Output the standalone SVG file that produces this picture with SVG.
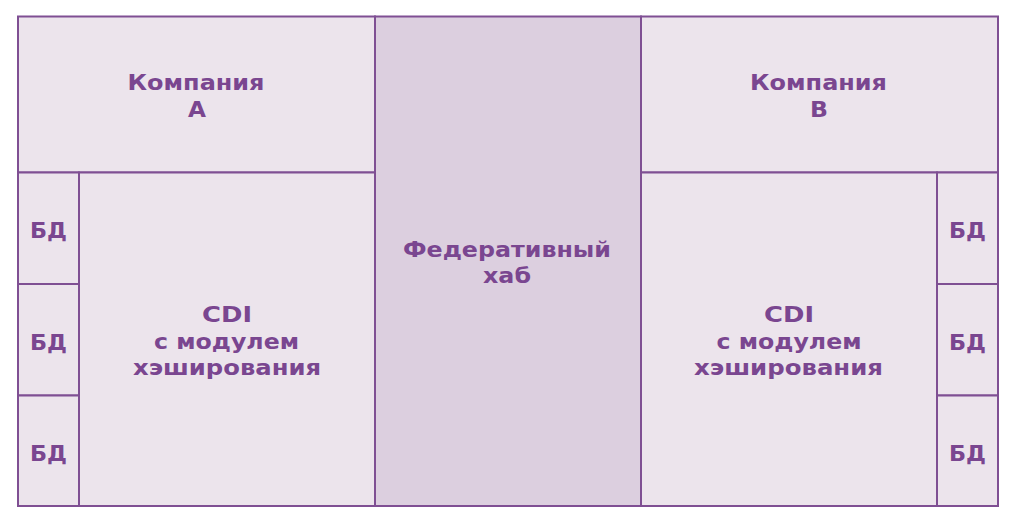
<svg xmlns="http://www.w3.org/2000/svg" width="1016" height="514" viewBox="0 0 1016 514">
<style>
.box{fill:#ece4ec;stroke:#7f4f93;stroke-width:2}
.hub{fill:#dccfdf;stroke:#7f4f93;stroke-width:2}
.t{font-family:"DejaVu Sans","Liberation Sans",Arial,sans-serif;font-weight:bold;font-size:20.5px;fill:#7a4690;text-anchor:middle}
</style>
<rect x="0" y="0" width="1016" height="514" fill="#ffffff"/>
<g id="company-a">
<rect class="box" x="18" y="16.5" width="357" height="156"/>
<text class="t" x="196" y="90" textLength="137" lengthAdjust="spacingAndGlyphs">Компания</text>
<text class="t" x="197" y="117" textLength="18" lengthAdjust="spacingAndGlyphs">A</text>
</g>
<g id="hub">
<rect class="hub" x="375" y="16.5" width="266" height="489.5"/>
<text class="t" x="507" y="257" textLength="208" lengthAdjust="spacingAndGlyphs">Федеративный</text>
<text class="t" x="507" y="283" textLength="48" lengthAdjust="spacingAndGlyphs">хаб</text>
</g>
<g id="company-b">
<rect class="box" x="641" y="16.5" width="357" height="156"/>
<text class="t" x="818.5" y="90" textLength="137" lengthAdjust="spacingAndGlyphs">Компания</text>
<text class="t" x="819" y="117" textLength="18" lengthAdjust="spacingAndGlyphs">B</text>
</g>
<g id="cdi-a">
<rect class="box" x="79" y="172.5" width="296" height="333.5"/>
<text class="t" x="227" y="322" textLength="50" lengthAdjust="spacingAndGlyphs">CDI</text>
<text class="t" x="226.5" y="349" textLength="145" lengthAdjust="spacingAndGlyphs">с модулем</text>
<text class="t" x="227" y="375" textLength="188" lengthAdjust="spacingAndGlyphs">хэширования</text>
</g>
<g id="cdi-b">
<rect class="box" x="641" y="172.5" width="296" height="333.5"/>
<text class="t" x="789" y="322" textLength="50" lengthAdjust="spacingAndGlyphs">CDI</text>
<text class="t" x="789" y="349" textLength="145" lengthAdjust="spacingAndGlyphs">с модулем</text>
<text class="t" x="788.5" y="375" textLength="189" lengthAdjust="spacingAndGlyphs">хэширования</text>
</g>
<g id="db-a1">
<rect class="box" x="18" y="172.5" width="61" height="111.5"/>
<text class="t" x="48.5" y="238" textLength="37" lengthAdjust="spacingAndGlyphs">БД</text>
</g>
<g id="db-a2">
<rect class="box" x="18" y="284" width="61" height="111.5"/>
<text class="t" x="48.5" y="350" textLength="37" lengthAdjust="spacingAndGlyphs">БД</text>
</g>
<g id="db-a3">
<rect class="box" x="18" y="395.5" width="61" height="110.5"/>
<text class="t" x="48.5" y="461" textLength="37" lengthAdjust="spacingAndGlyphs">БД</text>
</g>
<g id="db-b1">
<rect class="box" x="937" y="172.5" width="61" height="111.5"/>
<text class="t" x="967.5" y="238" textLength="37" lengthAdjust="spacingAndGlyphs">БД</text>
</g>
<g id="db-b2">
<rect class="box" x="937" y="284" width="61" height="111.5"/>
<text class="t" x="967.5" y="350" textLength="37" lengthAdjust="spacingAndGlyphs">БД</text>
</g>
<g id="db-b3">
<rect class="box" x="937" y="395.5" width="61" height="110.5"/>
<text class="t" x="967.5" y="461" textLength="37" lengthAdjust="spacingAndGlyphs">БД</text>
</g>
<g id="connectors"></g>
</svg>
